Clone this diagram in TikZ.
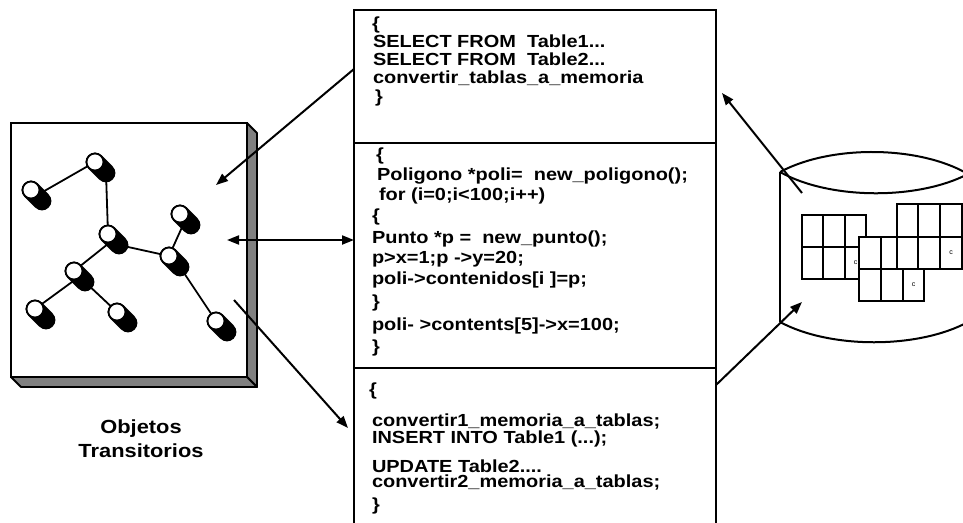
\documentclass[tikz,border=0pt]{standalone}
\usepackage{fontspec}
\setmainfont{Liberation Sans}
\newfontfamily\codefont[FakeStretch=1.14]{Liberation Sans}
\newfontfamily\capfont[FakeStretch=1.15]{Liberation Sans}
\usetikzlibrary{arrows.meta,calc}
\definecolor{shade}{HTML}{808080}
\begin{document}
\begin{tikzpicture}[x=1pt,y=-1pt,
  every node/.style={inner sep=0pt, outer sep=0pt},
  code/.style={anchor=base west, font=\codefont\fontsize{17.5}{19}\selectfont\bfseries},
  frame/.style={draw, line width=2pt, anchor=north west},
  conn/.style={line width=2pt, -{Triangle[length=12pt,width=9pt]}},
  both/.style={line width=2pt, {Triangle[length=12pt,width=9pt]}-{Triangle[length=12pt,width=9pt]}},
  link/.style={line width=1.8pt},
  face/.style={draw, fill=shade, line width=1.8pt, line join=round},
  cell/.style={draw, fill=white, line width=1.8pt},
  tick/.style={font=\fontsize{7}{8}\selectfont}
]
\useasboundingbox (0,0) rectangle (963,522);
\clip (0,0) rectangle (963,522);

% ---------- object graph panel ----------
\node[frame, fill=white, minimum width=236pt, minimum height=254pt] (panel) at (11,123) {};
\draw[face] (panel.north east) -- ++(10,10) -- ($(panel.south east)+(10,10)$) -- (panel.south east) -- cycle;
\draw[face] (panel.south west) -- ++(10,10) -- ($(panel.south east)+(10,10)$) -- (panel.south east) -- cycle;
\draw[line width=2pt] (panel.north west) rectangle (panel.south east);

% object heads, tails and body midpoints
\foreach \n/\x/\y in {n1/31/190, n2/95/162, n3/108/234, n4/74/271,
                      n5/35/309, n6/117/312, n7/180/214, n8/169/256, n9/216/321}{
  \coordinate (\n) at (\x,\y);
  \coordinate (\n-t) at (\x+11,\y+11);
  \coordinate (\n-m) at (\x+5.5,\y+5.5);
}

% references between objects
\draw[link] (n1-m) -- (n2);
\draw[link] (n2-t) -- (n3);
\draw[link] (n3-m) -- (n4);
\draw[link] (n3-t) -- (n8);
\draw[link] (n4-m) -- (n5);
\draw[link] (n4-t) -- (n6);
\draw[link] (n8) -- (n7-m);
\draw[link] (n8-t) -- (n9);

% objects drawn as small cylinders
\foreach \n in {n1,n2,n3,n4,n5,n6,n7,n8,n9}{
  \draw[line width=18.8pt, line cap=round] (\n) -- (\n-t);
  \draw[shade, line width=15.2pt, line cap=round] (\n) -- (\n-t);
  \draw[fill=white, line width=1.8pt] (\n) circle[radius=8.5];
}

% caption: base anchor sits on the last line
\node[align=center, font=\capfont\fontsize{19}{24}\selectfont\bfseries, anchor=base] (lbl) at (141,457) {Objetos\\Transitorios};

% ---------- code block ----------
\node[frame, minimum width=362pt, minimum height=133pt] (sel) at (354,10) {};
\node[frame, minimum width=362pt, minimum height=225pt] (work) at (354,143) {};
\node[frame, minimum width=362pt, minimum height=170pt] (save) at (354,368) {};

\node[code] (s1) at (372,29) {\{};
\node[code] (s2) at (373,47) {SELECT FROM~~Table1...};
\node[code] (s3) at (373,65) {SELECT FROM~~Table2...};
\node[code] (s4) at (373,83) {convertir\_tablas\_a\_memoria};
\node[code] (s5) at (375,102) {\}};

\node[code] (w1) at (376,160) {\{};
\node[code] (w2) at (377,180) {Poligono *poli=~~new\_poligono();};
\node[code] (w3) at (379,200) {for (i=0;i<100;i++)};
\node[code] (w4) at (372,221) {\{};
\node[code] (w5) at (372,243) {Punto *p =~~new\_punto();};
\node[code] (w6) at (372,263) {p>x=1;p ->y=20;};
\node[code] (w7) at (372,284) {poli->contenidos[i ]=p;};
\node[code] (w8) at (372,307) {\}};
\node[code] (w9) at (372,330) {poli- >contents[5]->x=100;};
\node[code] (w10) at (372,352) {\}};

\node[code] (u1) at (369,395) {\{};
\node[code] (u2) at (372,426) {convertir1\_memoria\_a\_tablas;};
\node[code] (u3) at (372,443) {INSERT INTO Table1 (...);};
\node[code] (u4) at (372,472) {UPDATE Table2....};
\node[code] (u5) at (372,487) {convertir2\_memoria\_a\_tablas;};
\node[code] (u6) at (372,510) {\}};

% ---------- database ----------
\coordinate (dbtop) at (780,172);
\coordinate (dbbot) at (780,322);
\draw[line width=2pt] (dbtop) .. controls (830,145) and (918,145) .. (968,174);
\draw[line width=2pt] (dbtop) .. controls (830,200) and (918,200) .. (968,174);
\draw[line width=2pt] (dbtop) -- (dbbot);
\draw[line width=2pt] (dbbot) .. controls (830,349) and (918,349) .. (968,322);

% stored tables
\draw[cell] (802,215) rectangle (866,279);
\draw[line width=1.8pt] (823,215) -- (823,279) (845,215) -- (845,279) (802,247) -- (866,247);
\node[tick] (ca) at (855.5,263) {c};
\draw[cell] (859,237) rectangle (924,301);
\draw[line width=1.8pt] (881,237) -- (881,301) (903,237) -- (903,301) (859,269) -- (924,269);
\node[tick] (cb) at (913.5,285) {c};
\draw[cell] (897,204) rectangle (962,269);
\draw[line width=1.8pt] (918,204) -- (918,269) (940,204) -- (940,269) (897,237) -- (962,237);
\node[tick] (cc) at (951,253) {c};

% ---------- data flow ----------
\coordinate (load) at (216,185);
\coordinate (use) at (227,240);
\coordinate (from) at (234,300);
\coordinate (store) at (348,428);
\coordinate (inDb) at (802,193);
\coordinate (back) at (722,93);
\coordinate (intoDb) at (802,302);

\draw[conn] (sel.west |- 0,69) -- (load);
\draw[both] (use) -- (work.west |- use);
\draw[conn] (from) -- (store);
\draw[conn] (inDb) -- (back);
\draw[conn] (save.east |- 0,385) -- (intoDb);
\end{tikzpicture}
\end{document}
